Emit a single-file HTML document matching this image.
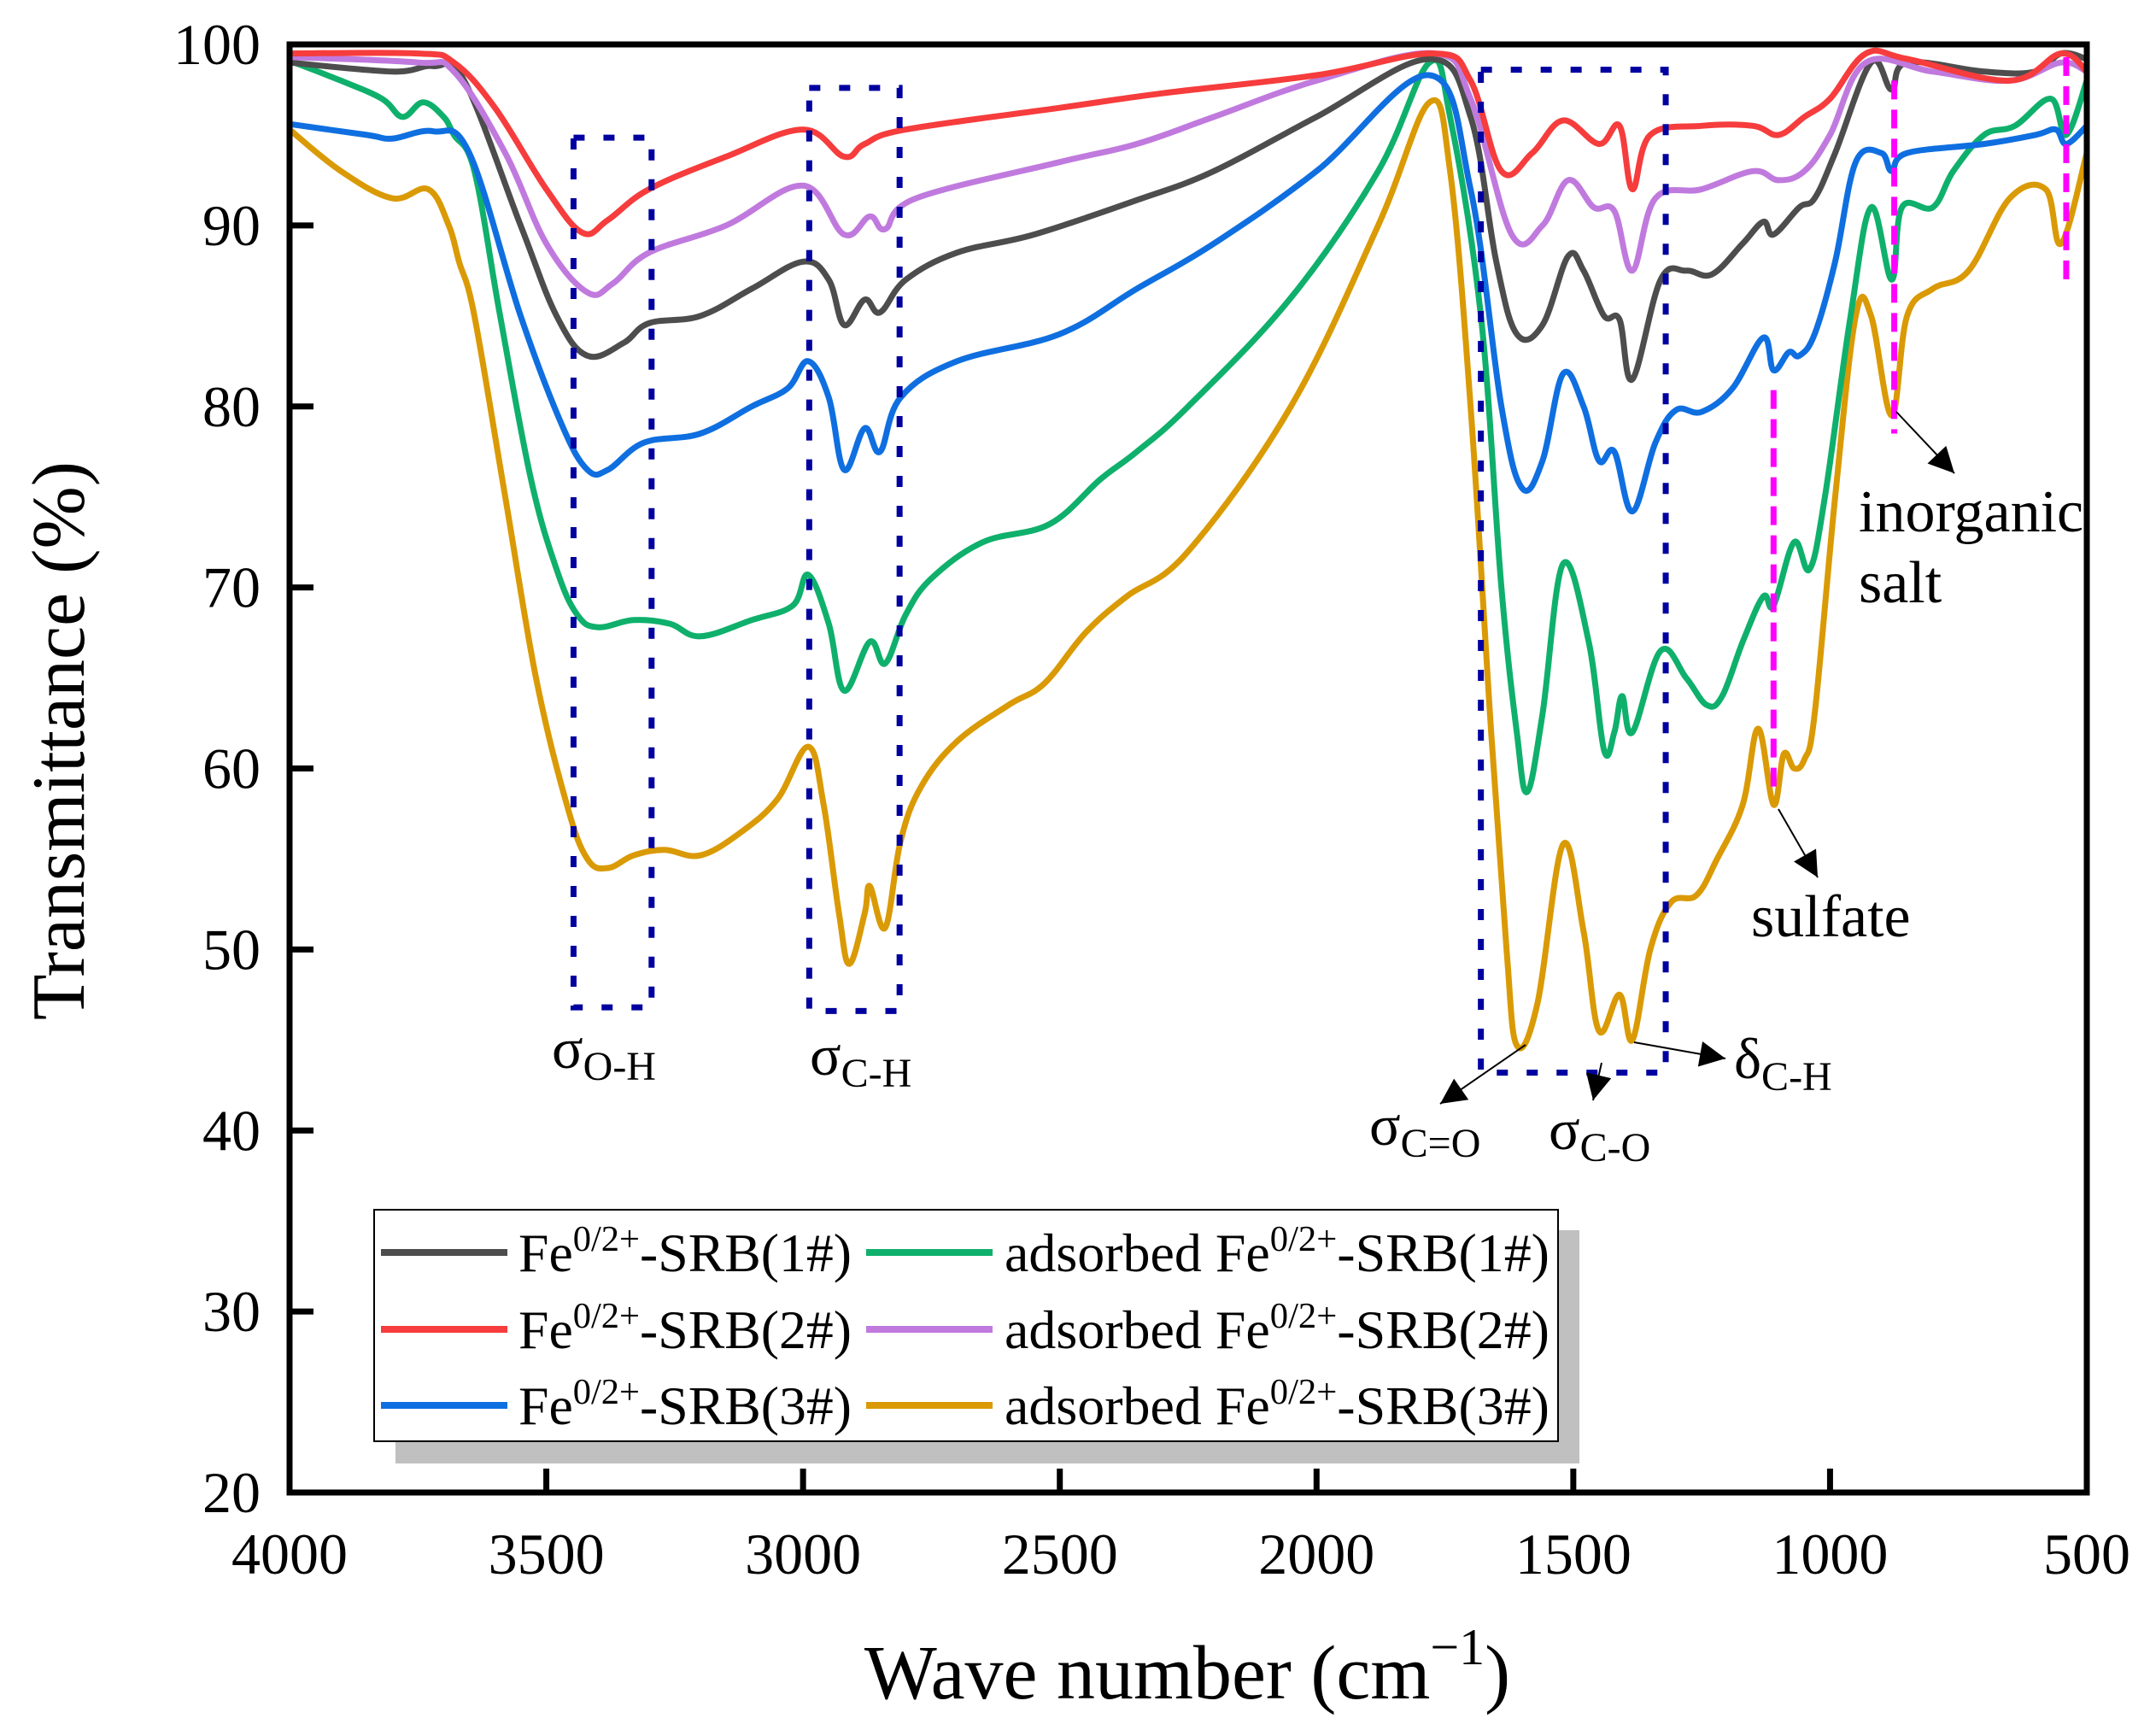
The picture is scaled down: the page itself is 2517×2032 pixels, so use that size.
<!DOCTYPE html>
<html><head><meta charset="utf-8"><style>
body{margin:0;background:#fff}
svg text{font-family:"Liberation Serif",serif;fill:#000}
</style></head><body>
<svg id="chart" xmlns="http://www.w3.org/2000/svg" width="2517" height="2027" viewBox="0 0 2517 2027">
<g id="plot"></g>
<g id="ann"></g>
<g id="axes"></g>
<g id="legend"></g>
</svg>
<script>
const xTicks=[4000,3500,3000,2500,2000,1500,1000,500];
const yTicks=[20,30,40,50,60,70,80,90,100];
const seriesNames=["Fe0/2+-SRB(1#)","Fe0/2+-SRB(2#)","Fe0/2+-SRB(3#)","adsorbed Fe0/2+-SRB(1#)","adsorbed Fe0/2+-SRB(2#)","adsorbed Fe0/2+-SRB(3#)"];
const seriesColors=["#4d4d4d","#f63c3c","#0f6fe0","#0fb06c","#c07ade","#da9a05"];
const black1=[[4000,99],[3800,98.5],[3720,98.8],[3660,98],[3550,90],[3480,85],[3420,82.8],[3350,83.5],[3300,84.6],[3200,85],[3100,86.5],[3000,88],[2950,87],[2920,84.5],[2880,85.9],[2850,85.2],[2800,87],[2700,88.5],[2550,89.5],[2350,91.4],[2200,93],[2000,96],[1780,99.2],[1700,96],[1650,88],[1610,84],[1560,84.5],[1510,88.3],[1480,87.5],[1440,85],[1410,84.8],[1385,81.5],[1330,87],[1280,87.5],[1230,87.3],[1170,89],[1130,90.2],[1110,89.5],[1060,91],[1030,91.5],[990,94],[920,99],[880,97.5],[850,99],[700,98.5],[600,98.5],[550,99.5],[500,99.2]];
const red2=[[4000,99.5],[3750,99.5],[3680,99],[3600,96.5],[3500,92],[3430,89.6],[3380,90.3],[3300,92],[3150,93.8],[3000,95.3],[2920,93.8],[2880,94.5],[2800,95.3],[2500,96.5],[2300,97.3],[2000,98.3],[1770,99.5],[1700,98],[1640,93],[1580,94],[1520,95.8],[1450,94.5],[1410,95.5],[1385,92],[1350,95],[1250,95.5],[1150,95.5],[1100,95],[1050,96],[1000,97],[930,99.5],[850,99.2],[650,98],[550,99.5],[500,98.5]];
const blue3=[[4000,95.6],[3850,95],[3800,94.8],[3720,95.2],[3650,94],[3550,85],[3470,79],[3420,76.5],[3380,76.5],[3310,78],[3200,78.5],[3100,80],[3030,81],[2990,82.5],[2950,80.5],[2920,76.5],[2880,78.8],[2850,77.5],[2810,80.5],[2700,82.5],[2500,84],[2350,86.5],[2200,89],[2000,93],[1780,98.3],[1700,92],[1640,80],[1600,75.5],[1560,77],[1520,81.8],[1480,80],[1450,77],[1420,77.5],[1385,74.2],[1340,78],[1300,79.8],[1250,79.7],[1190,81],[1130,83.8],[1110,82],[1080,83],[1060,82.8],[1030,84],[990,88],[950,93.5],[900,94],[880,93],[850,94],[700,94.5],[600,95],[560,95.3],[540,94.5],[500,95.5]];
const green1=[[4000,99.1],[3900,98],[3820,97],[3780,96],[3740,96.8],[3700,96],[3680,95],[3640,93],[3590,85],[3530,76],[3480,71],[3440,68.5],[3400,67.8],[3330,68.2],[3260,68],[3200,67.3],[3100,68.2],[3020,69],[2990,70.7],[2950,68],[2920,64.3],[2870,67],[2840,65.8],[2800,68.5],[2750,70.5],[2650,72.5],[2520,73.5],[2420,76],[2350,77.5],[2250,80],[2050,86],[1880,93],[1780,99],[1740,96],[1680,85],[1640,70],[1610,62],[1590,58.7],[1560,63],[1520,71.3],[1470,67],[1440,61],[1420,62],[1405,64],[1385,62],[1330,66.5],[1280,65],[1240,63.5],[1210,64],[1170,67],[1130,69.5],[1110,69],[1070,72.5],[1040,71],[1010,75],[960,85],[920,91],[880,87],[860,91],[800,91],[760,93],[700,95],[640,95.5],[570,97],[540,95],[500,98]];
const purple2=[[4000,99.3],[3750,99],[3680,98.5],[3580,94],[3500,89],[3420,86.3],[3370,86.8],[3300,88.5],[3150,90],[3000,92.2],[2920,89.5],[2870,90.5],[2840,89.8],[2780,91.5],[2500,93.5],[2350,94.5],[2200,96],[2000,98],[1770,99.5],[1700,97],[1620,89.5],[1560,90],[1510,92.5],[1460,91],[1420,90.8],[1385,87.5],[1340,91.5],[1250,92],[1150,93],[1100,92.5],[1050,93],[1000,95],[930,99],[800,98.5],[650,98],[550,99],[500,98.5]];
const orange3=[[4000,95.3],[3900,93],[3800,91.5],[3730,92],[3690,90],[3670,88],[3640,85],[3580,75],[3520,65],[3460,58],[3420,55],[3380,54.5],[3330,55.2],[3270,55.5],[3200,55.2],[3120,56.5],[3050,58.3],[2990,61.2],[2960,58],[2930,52],[2910,49.2],[2880,52],[2870,53.5],[2840,51.2],[2810,56],[2770,59],[2700,61.5],[2600,63.5],[2530,64.7],[2450,67.5],[2370,69.5],[2250,72],[2050,80],[1880,90],[1780,96.8],[1740,93],[1700,80],[1660,62],[1630,50],[1610,44.7],[1570,47],[1520,55.8],[1480,51],[1450,45.5],[1410,47.5],[1385,45],[1350,50],[1310,52.6],[1260,53],[1220,55],[1170,58],[1140,62.2],[1110,58],[1090,60.8],[1070,60],[1050,60.5],[1030,63],[990,75],[950,85],[920,85],[880,79.5],[850,85],[800,86.5],[730,87.5],[650,91.5],[580,92],[550,89],[500,94]];
const seriesData=[black1,red2,blue3,green1,purple2,orange3];
const drawOrder=[5,3,2,0,4,1];

const X0=339,X1=2443,Y0=1747,Y1=52;
function xs(w){return X0+(4000-w)/(4000-500)*(X1-X0);}
function ys(t){return Y0-(t-20)/(100-20)*(Y0-Y1);}
const NS="http://www.w3.org/2000/svg";
function mk(tag,attrs,parent){const e=document.createElementNS(NS,tag);for(const k in attrs)e.setAttribute(k,attrs[k]);parent.appendChild(e);return e;}
const plot=document.getElementById('plot'),axes=document.getElementById('axes'),ann=document.getElementById('ann'),leg=document.getElementById('legend');

function smoothPath(pts){
  const P=pts.map(p=>[xs(p[0]),ys(p[1])]);
  let d='M'+P[0][0].toFixed(1)+' '+P[0][1].toFixed(1);
  for(let i=0;i<P.length-1;i++){
    const p0=P[Math.max(0,i-1)],p1=P[i],p2=P[i+1],p3=P[Math.min(P.length-1,i+2)];
    const t=0.18;
    const c1=[p1[0]+(p2[0]-p0[0])*t,p1[1]+(p2[1]-p0[1])*t];
    const c2=[p2[0]-(p3[0]-p1[0])*t,p2[1]-(p3[1]-p1[1])*t];
    d+=' C'+c1[0].toFixed(1)+' '+c1[1].toFixed(1)+' '+c2[0].toFixed(1)+' '+c2[1].toFixed(1)+' '+p2[0].toFixed(1)+' '+p2[1].toFixed(1);
  }
  return d;
}
drawOrder.forEach(i=>{
  const p=mk('path',{d:smoothPath(seriesData[i]),fill:'none',stroke:seriesColors[i],'stroke-width':7,'stroke-linejoin':'round'},plot);
  
  
});

const boxes=[[3447,3295,94.85,46.8],[2988,2812,97.6,46.6],[1680,1320,98.6,43.2]];
boxes.forEach((b,k)=>{
  const r=mk('rect',{x:xs(b[0]),y:ys(b[2]),width:xs(b[1])-xs(b[0]),height:ys(b[3])-ys(b[2]),fill:'none',stroke:'#0000a0','stroke-width':7,'stroke-dasharray':'13 22'},ann);
  
  
});
const mlines=[[1110,80.9,58.5],[875,98,78.5],[540,99.3,87]];
mlines.forEach((m,k)=>{
  const l=mk('line',{x1:xs(m[0]),x2:xs(m[0]),y1:ys(m[1]),y2:ys(m[2]),stroke:'#ff00ff','stroke-width':7,'stroke-dasharray':'22 12'},ann);
  
  
});
mk('defs',{},ann).innerHTML='<marker id="ah2" viewBox="0 0 10 10" refX="10" refY="5" markerWidth="44" markerHeight="30" orient="auto" markerUnits="userSpaceOnUse"><path d="M0 0L10 5L0 10z" fill="#000"/></marker>';
const arrows=[[1786,1223,1686,1292],[1875,1244,1865,1288],[1913,1220,2020,1239],[2082,947,2128,1027],[2220,482,2288,554]];
arrows.forEach((a,k)=>{
  const l=mk('line',{x1:a[0],y1:a[1],x2:a[2],y2:a[3],stroke:'#000','stroke-width':2,'marker-end':'url(#ah2)'},ann);
  
  
});
function label(x,y,main,sub,name){
  const t=mk('text',{x:x,y:y,'font-size':68},ann);
  
  
  t.innerHTML=main+'<tspan font-size="48" dy="14">'+sub+'</tspan>';
}
label(646,1250,'σ','O-H','label-oh');
label(948,1258,'σ','C-H','label-ch');
label(1603,1340,'σ','C=O','label-co-double');
label(1813,1345,'σ','C-O','label-co');
label(2030,1262,'δ','C-H','label-ch-bend');
[['sulfate',2050,1096,'label-sulfate'],['inorganic',2176,622,'label-inorganic'],['salt',2176,705,'label-salt']].forEach(s=>{
  const t=mk('text',{x:s[1],y:s[2],'font-size':70},ann);t.textContent=s[0];
  
  
});

const f=mk('rect',{x:X0,y:Y1,width:X1-X0,height:Y0-Y1,fill:'none',stroke:'#000','stroke-width':7},axes);


xTicks.forEach(v=>{
  const x=xs(v);
  const tk=mk('line',{x1:x,x2:x,y1:Y0,y2:Y0-28,stroke:'#000','stroke-width':7},axes);
  
  
  const t=mk('text',{x:x,y:Y0+95,'font-size':68,'text-anchor':'middle'},axes);t.textContent=v;
  
  
});
yTicks.forEach(v=>{
  const y=ys(v);
  const tk=mk('line',{x1:X0,x2:X0+28,y1:y,y2:y,stroke:'#000','stroke-width':7},axes);
  
  
  const t=mk('text',{x:X0-34,y:y+23,'font-size':68,'text-anchor':'end'},axes);t.textContent=v;
  
  
});
let t=mk('text',{x:0,y:0,'font-size':88,'text-anchor':'middle',transform:'translate(98,867) rotate(-90)'},axes);t.textContent='Transmittance (%)';


t=mk('text',{x:1390,y:1988,'font-size':90,'text-anchor':'middle'},axes);t.innerHTML='Wave number (cm<tspan font-size="60" dy="-40">−1</tspan><tspan dy="40">)</tspan>';



let r=mk('rect',{x:463,y:1440,width:1386,height:273,fill:'#c0c0c0'},leg);


r=mk('rect',{x:438,y:1416,width:1386,height:271,fill:'#fff',stroke:'#000','stroke-width':2},leg);


const rowsY=[1466,1556,1645];
seriesNames.forEach((n,i)=>{
  const col=i<3?0:1,row=i%3;
  const lx=col?1014:446,tx=col?1176:607,y=rowsY[row];
  const l=mk('line',{x1:lx,x2:lx+148,y1:y,y2:y,stroke:seriesColors[i],'stroke-width':8},leg);
  
  
  const pre=col?'adsorbed Fe':'Fe',num=n.match(/\(\d#\)/)[0];
  const tt=mk('text',{x:tx,y:y+22,'font-size':63,textLength:col?638:390,lengthAdjust:'spacingAndGlyphs'},leg);
  tt.innerHTML=pre+'<tspan font-size="42" dy="-24">0/2+</tspan><tspan dy="24">-SRB'+num+'</tspan>';
  
  
});
</script>
</body></html>
